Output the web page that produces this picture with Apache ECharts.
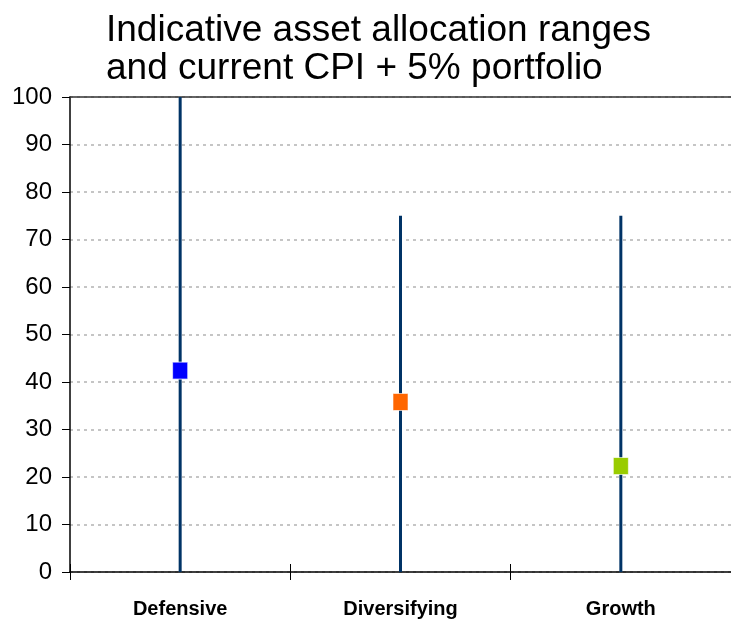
<!DOCTYPE html>
<html>
<head>
<meta charset="utf-8">
<script src="https://cdn.jsdelivr.net/npm/echarts@6/dist/echarts.min.js"></script>
<style>
  html, body { margin: 0; padding: 0; background: #ffffff; }
  #chart { width: 731px; height: 621px; }
</style>
</head>
<body>
<div id="chart"></div>
<script>
// Asset classes and their allocation data (percent of portfolio)
const categories = ['Defensive', 'Diversifying', 'Growth'];
const rangeMax = [100, 75, 75];          // upper bound of the indicative range
const currentAlloc = [42.4, 35.8, 22.3]; // current CPI + 5% portfolio weight
const markerColors = ['#0000ff', '#ff6600', '#99cc00'];
const yTicks = [0, 10, 20, 30, 40, 50, 60, 70, 80, 90, 100];

const chart = echarts.init(document.getElementById('chart'));

const FONT = 'Liberation Sans, Arial, sans-serif';
const plotBox = { left: 70, right: 0, top: 97, bottom: 49 };

chart.setOption({
  animation: false,
  backgroundColor: '#ffffff',
  title: {
    text: 'Indicative asset allocation ranges\nand current CPI + 5% portfolio',
    left: 101,
    top: 7,
    textStyle: {
      fontFamily: FONT,
      fontSize: 37,
      fontWeight: 'normal',
      color: '#000000',
      lineHeight: 38
    }
  },
  // second grid shares the plot box; its axis draws the category ticks crossing the baseline
  grid: [Object.assign({}, plotBox), Object.assign({}, plotBox)],
  xAxis: [
    {
      type: 'category',
      gridIndex: 0,
      data: categories,
      position: 'bottom',
      axisLine: { show: true, lineStyle: { color: '#000000', width: 1.5 } },
      axisTick: { show: false },
      axisLabel: {
        margin: 27,
        fontFamily: FONT,
        fontSize: 20,
        fontWeight: 'bold',
        color: '#000000'
      },
      splitLine: { show: false }
    },
    {
      type: 'category',
      gridIndex: 0,
      data: categories,
      position: 'top',
      axisLine: { show: true, lineStyle: { color: '#333333', width: 1.5 } },
      axisTick: { show: false },
      axisLabel: { show: false },
      splitLine: { show: false }
    },
    {
      type: 'category',
      gridIndex: 1,
      data: categories,
      position: 'bottom',
      offset: -8,
      axisLine: { show: false, onZero: false },
      axisTick: { show: true, inside: false, length: 16, lineStyle: { color: '#000000' } },
      axisLabel: { show: false },
      splitLine: { show: false }
    }
  ],
  yAxis: [
    {
      type: 'value',
      gridIndex: 0,
      min: 0,
      max: 100,
      interval: 10,
      axisLine: { show: true, lineStyle: { color: '#000000', width: 1.5 } },
      axisTick: { show: true, length: 8, lineStyle: { color: '#000000' } },
      axisLabel: {
        margin: 18,
        fontFamily: FONT,
        fontSize: 24,
        color: '#000000',
        formatter: function (v) { return yTicks.indexOf(v) >= 0 ? String(v) : ''; }
      },
      splitLine: {
        show: true,
        lineStyle: { color: '#b3b3b3', type: [3, 4], width: 1.5 }
      }
    },
    {
      type: 'value',
      gridIndex: 1,
      min: 0,
      max: 100,
      interval: 10,
      show: false
    }
  ],
  series: [
    {
      name: 'Range',
      type: 'bar',
      xAxisIndex: 0,
      yAxisIndex: 0,
      data: rangeMax,
      barWidth: 3,
      itemStyle: { color: '#003366' },
      z: 2
    },
    {
      name: 'Current',
      type: 'scatter',
      xAxisIndex: 0,
      yAxisIndex: 0,
      symbol: 'rect',
      symbolSize: [15, 17],
      data: currentAlloc.map(function (v, i) {
        return { value: [categories[i], v], itemStyle: { color: markerColors[i] } };
      }),
      itemStyle: { opacity: 1, borderColor: 'rgba(255,255,255,0.6)', borderWidth: 1 },
      z: 3
    }
  ]
});
</script>
</body>
</html>
